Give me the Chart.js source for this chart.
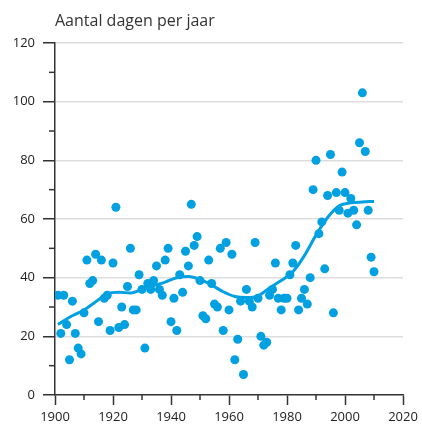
<!DOCTYPE html>
<html>
<head>
<meta charset="utf-8">
<script src="https://cdn.jsdelivr.net/npm/chart.js@4.4.1/dist/chart.umd.min.js"></script>
<style>
  body { margin: 0; background: #fff; }
</style>
</head>
<body>
<canvas id="dagen" width="422" height="430"></canvas>
<script>
// jaarlijkse waarden
var jaren = [1901,1902,1903,1904,1905,1906,1907,1908,1909,1910,
  1911,1912,1913,1914,1915,1916,1917,1918,1919,1920,
  1921,1922,1923,1924,1925,1926,1927,1928,1929,1930,
  1931,1932,1933,1934,1935,1936,1937,1938,1939,1940,
  1941,1942,1943,1944,1945,1946,1947,1948,1949,1950,
  1951,1952,1953,1954,1955,1956,1957,1958,1959,1960,
  1961,1962,1963,1964,1965,1966,1967,1968,1969,1970,
  1971,1972,1973,1974,1975,1976,1977,1978,1979,1980,
  1981,1982,1983,1984,1985,1986,1987,1988,1989,1990,
  1991,1992,1993,1994,1995,1996,1997,1998,1999,2000,
  2001,2002,2003,2004,2005,2006,2007,2008,2009,2010];
var dagen = [34,21,34,24,12,32,21,16,14,28,
  46,38,39,48,25,46,33,34,22,45,
  64,23,30,24,37,50,29,29,41,36,
  16,38,36,39,44,36,34,46,50,25,
  33,22,41,35,49,44,65,51,54,39,
  27,26,46,38,31,30,50,22,52,29,
  48,12,19,32,7,36,32,30,52,33,
  20,17,18,34,36,45,33,29,33,33,
  41,45,51,29,33,36,31,40,70,80,
  55,59,43,68,82,28,69,63,76,69,
  62,67,63,58,86,103,83,63,47,42];

var trendJaren = [1901,1905,1910,1915,1918,1922,1926,1930,1934,1938,1942,1946,1950,1954,
  1958,1962,1966,1970,1974,1978,1982,1986,1990,1994,1998,2002,2006,2010];
var trend = [24,26.5,29,32.5,34.5,35,34.8,36,37.3,38.5,40,40.4,39.4,37.5,
  35.2,33.6,33.2,33.8,36.5,39,42,47.5,54.5,60.5,64.5,65.5,65.8,66];

var blauw = '#00a0e1';
var tekst = '#222';
var lettertype = {family: '"Open Sans", sans-serif', size: 13};

var punten = jaren.map(function (j, i) { return {x: j, y: dagen[i]}; });
var lijn = trendJaren.map(function (j, i) { return {x: j, y: trend[i]}; });

var titelPlugin = {
  id: 'titel',
  afterDraw: function (chart) {
    var ctx = chart.ctx;
    ctx.save();
    ctx.font = '16px "Open Sans", sans-serif';
    ctx.fillStyle = '#333';
    ctx.textBaseline = 'alphabetic';
    ctx.fillText('Aantal dagen per jaar', chart.chartArea.left, 26);
    ctx.restore();
  }
};

// korte tussenstreepjes op de assen
var kleineStreepjes = {
  id: 'kleineStreepjes',
  afterDraw: function (chart) {
    var ctx = chart.ctx;
    var x = chart.scales.x, y = chart.scales.y;
    ctx.save();
    ctx.strokeStyle = '#333';
    ctx.lineWidth = 1.5;
    x.ticks.forEach(function (t) {
      if (t.value % 20 !== 0) {
        var px = x.getPixelForValue(t.value);
        ctx.beginPath();
        ctx.moveTo(px, x.top);
        ctx.lineTo(px, x.top + 5);
        ctx.stroke();
      }
    });
    y.ticks.forEach(function (t) {
      if (t.value % 20 !== 0) {
        var py = y.getPixelForValue(t.value);
        ctx.beginPath();
        ctx.moveTo(y.right, py);
        ctx.lineTo(y.right - 6, py);
        ctx.stroke();
      }
    });
    ctx.restore();
  }
};

var chart = new Chart(document.getElementById('dagen').getContext('2d'), {
  type: 'scatter',
  data: {
    datasets: [{
      type: 'line',
      data: lijn,
      borderColor: blauw,
      borderWidth: 3,
      pointRadius: 0,
      fill: false,
      cubicInterpolationMode: 'monotone'
    }, {
      data: punten,
      backgroundColor: blauw,
      borderWidth: 0,
      pointRadius: 4.5
    }]
  },
  options: {
    responsive: false,
    animation: false,
    devicePixelRatio: 1,
    layout: { padding: { top: 43, right: 19 } },
    plugins: {
      legend: { display: false },
      tooltip: { enabled: false }
    },
    scales: {
      x: {
        type: 'linear',
        min: 1900,
        max: 2020,
        afterFit: function (s) { s.height = 35; },
        border: { color: '#333', width: 1.5 },
        grid: {
          drawOnChartArea: false,
          tickLength: 10,
          tickWidth: 1.5,
          tickColor: function (c) { return c.tick && c.tick.value % 20 === 0 ? '#333' : 'rgba(0,0,0,0)'; }
        },
        ticks: {
          stepSize: 10,
          autoSkip: false,
          maxRotation: 0,
          padding: 4,
          color: tekst,
          font: lettertype,
          callback: function (v) { return v % 20 === 0 ? String(v) : ''; }
        }
      },
      y: {
        min: 0,
        max: 120,
        afterFit: function (s) { s.width = 55; },
        border: { color: '#333', width: 1.5 },
        grid: {
          tickLength: 12,
          tickWidth: 1.5,
          lineWidth: 1.5,
          color: function (c) { return c.tick && c.tick.value % 20 === 0 && c.tick.value > 0 ? '#dddddd' : 'rgba(0,0,0,0)'; },
          tickColor: function (c) { return c.tick && c.tick.value % 20 === 0 ? '#333' : 'rgba(0,0,0,0)'; }
        },
        ticks: {
          stepSize: 10,
          autoSkip: false,
          padding: 8,
          color: tekst,
          font: lettertype,
          callback: function (v) { return v % 20 === 0 ? String(v) : ''; }
        }
      }
    }
  },
  plugins: [titelPlugin, kleineStreepjes]
});
</script>
</body>
</html>
